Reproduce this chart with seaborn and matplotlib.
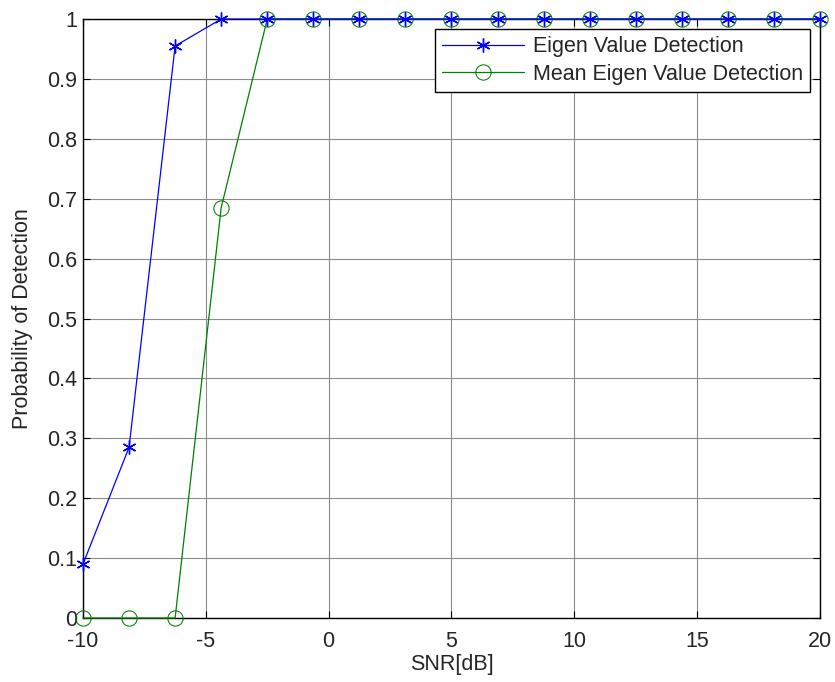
import numpy as np
import pandas as pd
import matplotlib
matplotlib.use("Agg")
import matplotlib.pyplot as plt
import seaborn as sns

sns.set_style("whitegrid")
plt.rcParams['font.family'] = ['Liberation Sans', 'DejaVu Sans']
plt.rcParams['font.size'] = 15

# SNR points (dB)
snr = [-10, -8.125, -6.25, -4.375, -2.5, -0.625, 1.25, 3.125, 5,
       6.875, 8.75, 10.625, 12.5, 14.375, 16.25, 18.125, 20]

# Detection probabilities
pd_eigen = [0.09, 0.285, 0.955, 1, 1, 1, 1, 1, 1, 1, 1, 1, 1, 1, 1, 1, 1]
pd_mean_eigen = [0, 0, 0, 0.685, 1, 1, 1, 1, 1, 1, 1, 1, 1, 1, 1, 1, 1]

fig = plt.figure(figsize=(8.35, 6.82), dpi=100)
ax = fig.add_axes([0.0994, 0.0938, 0.8826, 0.8783])

sns.lineplot(x=snr, y=pd_eigen, ax=ax, color='#0000ff', marker=(6, 2, 0),
             markersize=10, markeredgewidth=1.0, markeredgecolor='#0000ff',
             linewidth=0.9, label='Eigen Value Detection', clip_on=False, zorder=4)
sns.lineplot(x=snr, y=pd_mean_eigen, ax=ax, color='#008000', marker='o',
             markersize=11, markerfacecolor='none', markeredgecolor='#008000',
             linewidth=0.9, label='Mean Eigen Value Detection', clip_on=False, zorder=3)

ax.set_xlim(-10, 20)
ax.set_ylim(0, 1)
ax.set_xticks([-10, -5, 0, 5, 10, 15, 20])
ax.set_yticks(np.arange(0, 1.01, 0.1))
ax.set_xticklabels(['-10', '-5', '0', '5', '10', '15', '20'])
ax.set_yticklabels(['0', '0.1', '0.2', '0.3', '0.4', '0.5', '0.6', '0.7', '0.8', '0.9', '1'])

ax.grid(True, color='#8c8c8c', linewidth=0.8, linestyle='-')
for s in ax.spines.values():
    s.set_color('black')
    s.set_linewidth(1.0)
ax.tick_params(direction='in', length=5, color='black', labelsize=15.5,
               top=True, right=True, bottom=True, left=True)
ax.tick_params(axis='x', pad=9)
ax.tick_params(axis='y', pad=4)

ax.set_xlabel('SNR[dB]', fontsize=15.5, labelpad=2)
ax.set_ylabel('Probability of Detection', fontsize=15.5, labelpad=10)

leg = ax.legend(loc='upper right', fontsize=15.5, fancybox=False, framealpha=1,
                edgecolor='black', borderaxespad=0.45, handlelength=3.8,
                borderpad=0.35, labelspacing=0.3, handletextpad=0.4)
leg.get_frame().set_linewidth(1.0)

fig.savefig('out.png', dpi=100)
